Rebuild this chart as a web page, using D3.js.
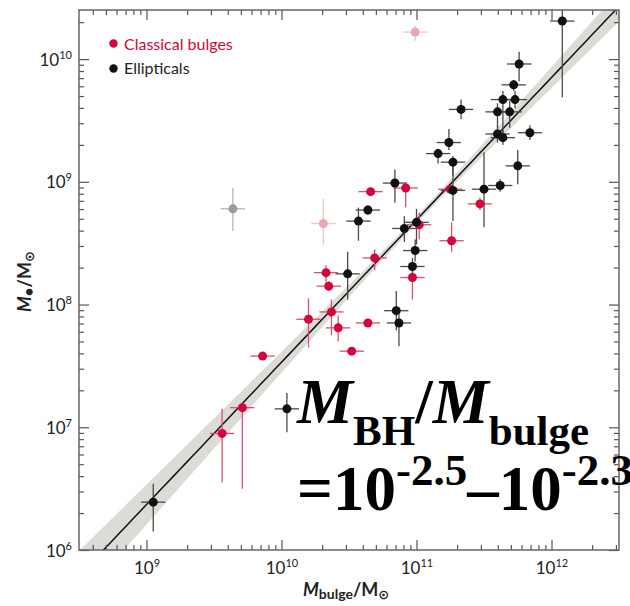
<!DOCTYPE html>
<html>
<head>
<meta charset="utf-8">
<script src="https://cdn.jsdelivr.net/npm/d3@7"></script>
<style>
body { margin: 0; background: #fff; }
text { font-family: Lato, "Noto Sans", sans-serif; }
</style>
</head>
<body>
<script>
// values are log10 of the masses
// ellipticals
var ellLogBulge = [9.05, 10.04, 10.49, 10.57, 10.64, 10.84, 10.85, 10.87, 10.91, 10.97,
	10.99, 11.00, 11.16, 11.24, 11.27, 11.27, 11.33, 11.50, 11.60, 11.62,
	11.64, 11.64, 11.69, 11.72, 11.73, 11.75, 11.76, 11.84, 12.08, 11.60]
var ellLogBH = [6.39, 7.15, 8.25, 8.68, 8.77, 8.99, 7.95, 7.85, 8.62, 8.31,
	8.44, 8.67, 9.23, 9.32, 9.16, 8.93, 9.59, 8.94, 9.39, 8.97,
	9.67, 9.36, 9.57, 9.79, 9.67, 9.13, 9.96, 9.40, 10.31, 9.57]
var ellErrLo = [0.24, 0.19, 0.21, 0.16, 0.04, 0.16, 0.16, 0.19, 0.11, 0.07,
	0.09, 0.18, 0.08, 0.06, 0.11, 0.25, 0.08, 0.31, 0.07, 0.05,
	0.28, 0.06, 0.13, 0.05, 0.07, 0.15, 0.14, 0.06, 0.62, 0.13]
var ellErrHi = [0.15, 0.13, 0.18, 0.11, 0.04, 0.11, 0.16, 0.08, 0.10, 0.07,
	0.09, 0.11, 0.04, 0.11, 0.05, 0.21, 0.08, 0.30, 0.07, 0.05,
	0.07, 0.06, 0.09, 0.04, 0.07, 0.13, 0.10, 0.06, 0.12, 0.07]

// classical bulges
var cbLogBulge = [9.56, 9.71, 9.86, 10.20, 10.33, 10.35, 10.37, 10.42, 10.52,
	10.64, 10.66, 10.69, 10.92, 10.97, 11.02, 11.25, 11.26, 11.47]
var cbLogBH = [6.95, 7.16, 7.58, 7.88, 8.26, 8.15, 7.94, 7.81, 7.62,
	7.85, 8.92, 8.38, 8.95, 8.22, 8.65, 8.94, 8.52, 8.82]
var cbErrLo = [0.40, 0.66, 0.03, 0.23, 0.08, 0.04, 0.19, 0.11, 0.03,
	0.03, 0.03, 0.10, 0.16, 0.18, 0.12, 0.03, 0.09, 0.05]
var cbErrHi = [0.20, 0.04, 0.03, 0.17, 0.06, 0.04, 0.10, 0.10, 0.03,
	0.03, 0.03, 0.07, 0.02, 0.11, 0.10, 0.03, 0.15, 0.05]

// omitted objects (faded)
var pinkLogBulge = [10.31, 10.99]
var pinkLogBH = [8.66, 10.22]
var pinkErrLo = [0.17, 0.07]
var pinkErrHi = [0.20, 0.05]
var grayLogBulge = [9.64]
var grayLogBH = [8.78]
var grayErrLo = [0.18]
var grayErrHi = [0.17]

var xErrDex = 0.09

// fit: log MBH = fitNorm + fitSlope * (log Mbulge - fitPivot)
var fitNorm = 8.69, fitSlope = 1.16, fitPivot = 11
var normErr = 0.03, slopeErr = 0.08

var xTickExp = [9, 10, 11, 12]
var yTickExp = [6, 7, 8, 9, 10]

var width = 630, height = 606
var pL = 79, pR = 619, pT = 10, pB = 550

var svg = d3.select('body').append('svg')
	.attr('width', width)
	.attr('height', height)

var x = d3.scaleLog()
	.domain([Math.pow(10, 8.5), Math.pow(10, 12.5)])
	.range([pL, pR])

var y = d3.scaleLog()
	.domain([1e6, Math.pow(10, 10.4)])
	.range([pB, pT])

svg.append('clipPath')
	.attr('id', 'plot')
	.append('rect')
		.attr('x', pL)
		.attr('y', pT)
		.attr('width', pR - pL)
		.attr('height', pB - pT)

var plot = svg.append('g').attr('clip-path', 'url(#plot)')

// fit band + line
var steps = d3.range(8.3, 12.71, 0.05)
function fitAt(lx) { return fitNorm + fitSlope * (lx - fitPivot) }
function halfAt(lx) {
	var d = lx - fitPivot
	return Math.sqrt(normErr * normErr + slopeErr * slopeErr * d * d)
}

plot.append('path')
	.datum(steps)
	.attr('fill', '#dcdbd5')
	.attr('d', d3.area()
		.x(d => x(Math.pow(10, d)))
		.y0(d => y(Math.pow(10, fitAt(d) - halfAt(d))))
		.y1(d => y(Math.pow(10, fitAt(d) + halfAt(d)))))

plot.append('path')
	.datum(steps)
	.attr('fill', 'none')
	.attr('stroke', '#111')
	.attr('stroke-width', 1.5)
	.attr('d', d3.line()
		.x(d => x(Math.pow(10, d)))
		.y(d => y(Math.pow(10, fitAt(d)))))

function rows(lx, ly, lo, hi) {
	return lx.map((v, i) => ({ lx: v, ly: ly[i], lo: lo[i], hi: hi[i] }))
}

function errorBars(data, col) {
	var g = plot.append('g')
		.attr('stroke', col)
		.attr('stroke-width', 1.3)
	g.selectAll('.h')
		.data(data)
		.enter()
		.append('line')
			.attr('x1', d => x(Math.pow(10, d.lx - xErrDex)))
			.attr('x2', d => x(Math.pow(10, d.lx + xErrDex)))
			.attr('y1', d => y(Math.pow(10, d.ly)))
			.attr('y2', d => y(Math.pow(10, d.ly)))
	g.selectAll('.v')
		.data(data)
		.enter()
		.append('line')
			.attr('x1', d => x(Math.pow(10, d.lx)))
			.attr('x2', d => x(Math.pow(10, d.lx)))
			.attr('y1', d => y(Math.pow(10, d.ly - d.lo)))
			.attr('y2', d => y(Math.pow(10, d.ly + d.hi)))
}

function dots(data, col) {
	plot.append('g')
		.selectAll('circle')
		.data(data)
		.enter()
		.append('circle')
			.attr('cx', d => x(Math.pow(10, d.lx)))
			.attr('cy', d => y(Math.pow(10, d.ly)))
			.attr('r', 4.5)
			.attr('fill', col)
}

var ell = rows(ellLogBulge, ellLogBH, ellErrLo, ellErrHi)
var cb = rows(cbLogBulge, cbLogBH, cbErrLo, cbErrHi)
var pink = rows(pinkLogBulge, pinkLogBH, pinkErrLo, pinkErrHi)
var gray = rows(grayLogBulge, grayLogBH, grayErrLo, grayErrHi)

errorBars(gray, '#b4b4b4')
errorBars(pink, '#f0c2c9')
dots(gray, '#9b9b9b')
dots(pink, '#e9a7b1')
errorBars(cb, '#dc4f6e')
errorBars(ell, '#4a4a4a')
dots(cb, '#d2063a')
dots(ell, '#111')

// axes, ticks point inward on all four sides
var minorX = [], minorY = []
d3.range(8, 13).forEach(function (e) {
	d3.range(2, 10).forEach(function (m) { minorX.push(m * Math.pow(10, e)) })
})
d3.range(6, 11).forEach(function (e) {
	d3.range(2, 10).forEach(function (m) { minorY.push(m * Math.pow(10, e)) })
})
minorX = minorX.filter(v => v > x.domain()[0] && v < x.domain()[1])
minorY = minorY.filter(v => v > y.domain()[0] && v < y.domain()[1])
var majorX = xTickExp.map(e => Math.pow(10, e))
var majorY = yTickExp.map(e => Math.pow(10, e))

function tickAxis(axis, pos, vals, size) {
	var g = svg.append('g')
		.attr('transform', pos)
		.call(axis.tickValues(vals).tickSize(-size).tickSizeOuter(0).tickFormat(''))
	g.select('.domain').remove()
	g.selectAll('line').attr('stroke', '#555').attr('stroke-width', 1.2)
	return g
}

tickAxis(d3.axisBottom(x), 'translate(0,' + pB + ')', minorX, 5)
tickAxis(d3.axisTop(x), 'translate(0,' + pT + ')', minorX, 5)
tickAxis(d3.axisLeft(y), 'translate(' + pL + ',0)', minorY, 5)
tickAxis(d3.axisRight(y), 'translate(' + pR + ',0)', minorY, 5)
var xMaj = tickAxis(d3.axisBottom(x), 'translate(0,' + pB + ')', majorX, 10)
tickAxis(d3.axisTop(x), 'translate(0,' + pT + ')', majorX, 10)
var yMaj = tickAxis(d3.axisLeft(y), 'translate(' + pL + ',0)', majorY, 10)
tickAxis(d3.axisRight(y), 'translate(' + pR + ',0)', majorY, 10)

xMaj.selectAll('.tick text').each(function (d) {
	var t = d3.select(this)
		.attr('y', 24)
		.attr('dy', null)
		.attr('fill', '#222')
		.style('font-size', '17px')
		.attr('text-anchor', 'middle')
	t.text('10')
	t.append('tspan').attr('dy', -7).style('font-size', '11px').text(Math.round(Math.log10(d)))
})

yMaj.selectAll('.tick text').each(function (d) {
	var t = d3.select(this)
		.attr('x', -7)
		.attr('dy', null)
		.attr('y', 6)
		.attr('fill', '#222')
		.style('font-size', '17px')
		.attr('text-anchor', 'end')
	t.text('10')
	t.append('tspan').attr('dy', -7).style('font-size', '11px').text(Math.round(Math.log10(d)))
})

svg.append('rect')
	.attr('x', pL)
	.attr('y', pT)
	.attr('width', pR - pL)
	.attr('height', pB - pT)
	.attr('fill', 'none')
	.attr('stroke', '#666')
	.attr('stroke-width', 1.5)

// axis titles
var xt = svg.append('text')
	.attr('x', 303)
	.attr('y', 596)
	.attr('fill', '#222')
	.style('font-weight', 'bold')
	.style('font-size', '18px')
xt.append('tspan').style('font-style', 'italic').text('M')
xt.append('tspan').attr('dy', 3).style('font-size', '14px').text('bulge')
xt.append('tspan').attr('dy', -3).text('/M')
xt.append('tspan').attr('dy', 3).style('font-size', '13px').style('font-family', '"DejaVu Sans"').text('\u2299')

var yt = svg.append('text')
	.attr('transform', 'translate(31,312) rotate(-90)')
	.attr('fill', '#222')
	.style('font-weight', 'bold')
	.style('font-size', '18px')
yt.append('tspan').style('font-style', 'italic').text('M')
yt.append('tspan').attr('dy', 3).style('font-size', '15px').text('\u2022')
yt.append('tspan').attr('dy', -3).text('/M')
yt.append('tspan').attr('dy', 3).style('font-size', '13px').style('font-family', '"DejaVu Sans"').text('\u2299')

// legend
var legend = [
	{ name: 'Classical bulges', col: '#d2063a' },
	{ name: 'Ellipticals', col: '#111' }
]
legend.forEach(function (d, i) {
	svg.append('circle')
		.attr('cx', 113.5)
		.attr('cy', 43.5 + i * 25)
		.attr('r', 4.2)
		.attr('fill', d.col)
	svg.append('text')
		.attr('x', 124)
		.attr('y', 49.5 + i * 24)
		.attr('fill', d.col == '#111' ? '#222' : d.col)
		.style('font-size', '16px')
		.text(d.name)
})

// big annotation
var serif = '"Liberation Serif", "Times New Roman", serif'
var a1 = svg.append('text')
	.attr('x', 297)
	.attr('y', 423)
	.style('font-family', serif)
	.style('font-weight', 'bold')
	.style('font-size', '63px')
a1.append('tspan').style('font-style', 'italic').text('M')
a1.append('tspan').attr('dy', 22).style('font-size', '43px').text('BH')
a1.append('tspan').attr('dy', -22).text('/')
a1.append('tspan').style('font-style', 'italic').text('M')
a1.append('tspan').attr('dy', 22).style('font-size', '43px').text('bulge')

var a2 = svg.append('text')
	.attr('x', 297)
	.attr('y', 510)
	.style('font-family', serif)
	.style('font-weight', 'bold')
	.style('font-size', '63px')
a2.append('tspan').text('=10')
a2.append('tspan').attr('dy', -25).style('font-size', '45px').text('-2.5')
a2.append('tspan').attr('dy', 25).text('\u201310')
a2.append('tspan').attr('dy', -25).style('font-size', '45px').text('-2.3')
</script>
</body>
</html>
